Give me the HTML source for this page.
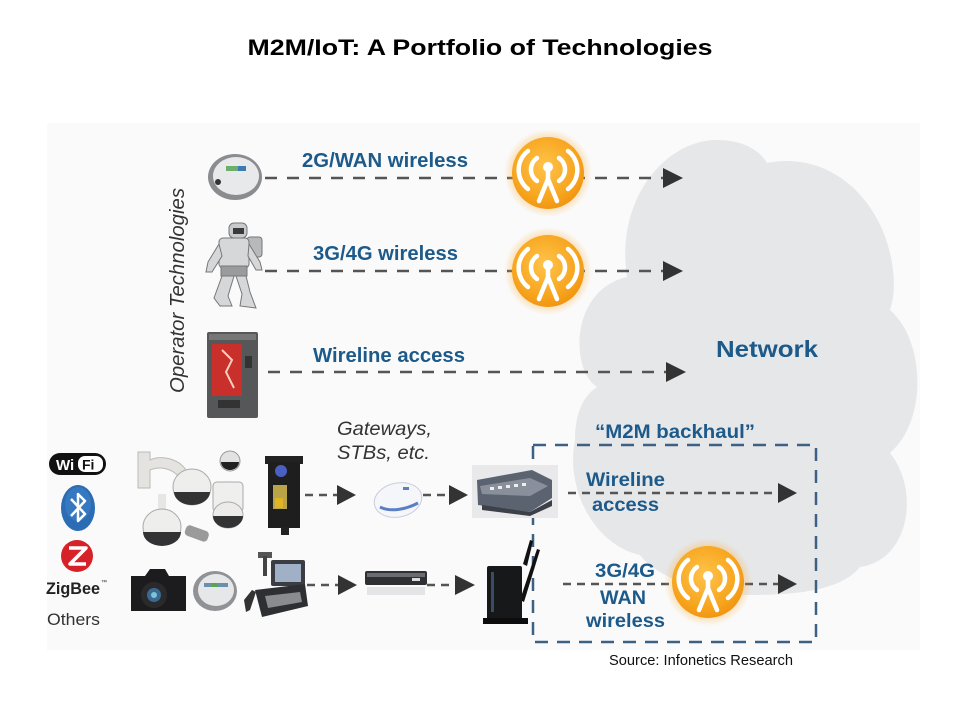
<!DOCTYPE html>
<html><head><meta charset="utf-8"><style>
html,body{margin:0;padding:0;background:#fff;}
svg{display:block;font-family:"Liberation Sans",Arial,sans-serif;}
</style></head><body>
<svg width="960" height="720" viewBox="0 0 960 720" xmlns="http://www.w3.org/2000/svg">
<defs>
<radialGradient id="og" cx="0.45" cy="0.4" r="0.6">
<stop offset="0" stop-color="#ffc34a"/><stop offset="0.75" stop-color="#f7a51e"/><stop offset="1" stop-color="#f29612"/>
</radialGradient>
<radialGradient id="glow" cx="0.5" cy="0.5" r="0.5">
<stop offset="0.7" stop-color="#f9b040" stop-opacity="0.5"/><stop offset="1" stop-color="#f9b040" stop-opacity="0"/>
</radialGradient>
<g id="wl">
<circle r="44" fill="url(#glow)"/>
<circle r="36" fill="url(#og)"/>
<g fill="none" stroke="#fff" stroke-width="4.5" stroke-linecap="round">
<path d="M-11,-15 A14,14 0 0,0 -11,8"/>
<path d="M11,-15 A14,14 0 0,1 11,8"/>
<path d="M-20,-22 A24,24 0 0,0 -20,16"/>
<path d="M20,-22 A24,24 0 0,1 20,16"/>
<path d="M0,-3 L0,6 M0,6 L-9,28 M0,6 L9,28"/>
</g>
<circle cx="0" cy="-6" r="5" fill="#fff"/>
</g>
</defs>

<!-- panel background -->
<rect x="47" y="123" width="873" height="527" fill="#fafafa"/>

<!-- cloud -->
<path d="M627,277 C615,200 665,140 717,140 C740,140 758,148 767,163 C830,150 885,200 893,270 C895,290 893,300 890,310 C925,340 928,420 890,453 C920,490 910,560 860,567 C840,592 790,595 750,595 C700,595 655,575 640,555 C595,545 565,490 575,440 C575,410 585,395 597,387 C570,370 570,290 627,277 Z" fill="#e6e7e9"/>

<!-- title -->
<text x="480" y="55" text-anchor="middle" font-size="22" font-weight="bold" fill="#000" textLength="465" lengthAdjust="spacingAndGlyphs">M2M/IoT: A Portfolio of Technologies</text>

<!-- Operator Technologies -->
<text transform="translate(184,393) rotate(-90)" font-size="20" font-style="italic" fill="#333" textLength="205" lengthAdjust="spacingAndGlyphs">Operator Technologies</text>

<!-- upper dashed lines -->
<g stroke="#555" stroke-width="2.5" stroke-dasharray="12 10" fill="none">
<line x1="265" y1="178" x2="665" y2="178"/>
<line x1="265" y1="271" x2="665" y2="271"/>
<line x1="268" y1="372" x2="668" y2="372"/>
</g>
<g fill="#333">
<polygon points="663,168 683,178 663,188"/>
<polygon points="663,261 683,271 663,281"/>
<polygon points="666,362 686,372 666,382"/>
</g>

<!-- upper labels -->
<g font-size="20" font-weight="bold" fill="#1d5a8a">
<text x="302" y="167" textLength="166" lengthAdjust="spacingAndGlyphs">2G/WAN wireless</text>
<text x="313" y="260" textLength="145" lengthAdjust="spacingAndGlyphs">3G/4G wireless</text>
<text x="313" y="362" textLength="152" lengthAdjust="spacingAndGlyphs">Wireline access</text>
<text x="716" y="357" font-size="23" textLength="102" lengthAdjust="spacingAndGlyphs">Network</text>
<text x="595" y="438" font-size="19" textLength="160" lengthAdjust="spacingAndGlyphs">“M2M backhaul”</text>
<text x="586" y="486" font-size="19" textLength="79" lengthAdjust="spacingAndGlyphs">Wireline</text>
<text x="592" y="511" font-size="19" textLength="67" lengthAdjust="spacingAndGlyphs">access</text>
<text x="595" y="577" font-size="19" textLength="60" lengthAdjust="spacingAndGlyphs">3G/4G</text>
<text x="600" y="604" font-size="19" textLength="46" lengthAdjust="spacingAndGlyphs">WAN</text>
<text x="586" y="627" font-size="19" textLength="79" lengthAdjust="spacingAndGlyphs">wireless</text>
</g>

<!-- backhaul dashed box -->
<path d="M533,445 L816,445 L816,642 L533,642 Z" fill="none" stroke="#3d6185" stroke-width="2.5" stroke-dasharray="13 9"/>

<!-- lower dashed lines -->
<g stroke="#555" stroke-width="2.5" stroke-dasharray="8 6" fill="none">
<line x1="305" y1="495" x2="338" y2="495"/>
<line x1="423" y1="495" x2="450" y2="495"/>
<line x1="568" y1="493" x2="778" y2="493"/>
<line x1="307" y1="585" x2="338" y2="585"/>
<line x1="427" y1="585" x2="455" y2="585"/>
<line x1="563" y1="584" x2="778" y2="584"/>
</g>
<g fill="#333">
<polygon points="337,485 356,495 337,505"/>
<polygon points="449,485 468,495 449,505"/>
<polygon points="778,483 797,493 778,503"/>
<polygon points="338,575 357,585 338,595"/>
<polygon points="455,575 475,585 455,595"/>
<polygon points="778,574 797,584 778,594"/>
</g>

<!-- wireless icons -->
<use href="#wl" x="548" y="173"/>
<use href="#wl" x="548" y="271"/>
<use href="#wl" x="708" y="582"/>

<!-- Gateways text -->
<g font-size="19" font-style="italic" fill="#333">
<text x="337" y="435" textLength="95" lengthAdjust="spacingAndGlyphs">Gateways,</text>
<text x="337" y="459" textLength="93" lengthAdjust="spacingAndGlyphs">STBs, etc.</text>
</g>

<!-- Source -->
<text x="609" y="665" font-size="14.5" fill="#111" textLength="184" lengthAdjust="spacingAndGlyphs">Source: Infonetics Research</text>

<!-- left logos -->
<rect x="49" y="453" width="57" height="22" rx="11" fill="#111"/>
<text x="56" y="470" font-size="15" font-weight="bold" fill="#fff">Wi</text>
<rect x="78" y="456" width="25" height="16" rx="7" fill="#fff"/>
<text x="82" y="469.5" font-size="14" font-weight="bold" fill="#111">Fi</text>
<ellipse cx="78" cy="508" rx="17" ry="23" fill="#2b6cb5"/>
<ellipse cx="78" cy="504" rx="13" ry="17" fill="#3f82c8" opacity="0.6"/>
<path d="M71,499 L85,514 L78,521 L78,494 L85,501 L71,516" fill="none" stroke="#fff" stroke-width="2.5" stroke-linejoin="round"/>
<circle cx="77" cy="556" r="16" fill="#d62128"/>
<path d="M69,548 L86,548 L70,564 L86,564" fill="none" stroke="#fff" stroke-width="3.5" stroke-linejoin="round"/>
<text x="46" y="594" font-size="17" font-weight="bold" fill="#222" textLength="54" lengthAdjust="spacingAndGlyphs">ZigBee</text>
<text x="101" y="584" font-size="6" fill="#222">™</text>
<text x="47" y="625" font-size="17" fill="#333" textLength="53" lengthAdjust="spacingAndGlyphs">Others</text>

<!-- meter 1 -->
<ellipse cx="235" cy="177" rx="27" ry="23" fill="#8a8c90"/>
<ellipse cx="236" cy="176" rx="23" ry="19" fill="#e8e9ea"/>
<rect x="226" y="166" width="20" height="5" fill="#6cae6a"/>
<rect x="238" y="166" width="8" height="5" fill="#3d7bb5"/>
<circle cx="218" cy="182" r="3" fill="#333"/>

<!-- robot -->
<g fill="#d6d7d9" stroke="#777" stroke-width="1">
<rect x="229" y="223" width="18" height="15" rx="5" fill="#c9cacc"/>
<rect x="233" y="228" width="11" height="6" fill="#3a3a3a" stroke="none"/>
<rect x="247" y="237" width="15" height="20" rx="3" fill="#b8b9bb"/>
<rect x="219" y="238" width="30" height="30" rx="4"/>
<path d="M219,244 L208,262 L206,272 L212,272 L222,256 Z"/>
<path d="M249,244 L260,262 L262,270 L256,270 L248,256 Z"/>
<rect x="221" y="266" width="26" height="10" fill="#9a9b9d"/>
<path d="M222,276 L214,298 L220,306 L232,306 L228,296 L234,276 Z"/>
<path d="M236,276 L242,294 L240,306 L256,308 L250,292 L246,276 Z"/>
</g>

<!-- vending machine -->
<rect x="207" y="332" width="51" height="86" rx="2" fill="#555759"/>
<rect x="209" y="334" width="47" height="6" fill="#777"/>
<rect x="212" y="344" width="30" height="52" fill="#c9302c"/>
<path d="M222,350 L232,360 L226,372 L234,388" fill="none" stroke="#f3d0c0" stroke-width="2"/>
<rect x="245" y="356" width="7" height="12" fill="#333"/>
<rect x="218" y="400" width="22" height="8" fill="#333"/>

<!-- camera cluster -->
<path d="M138,452 L150,452 L150,460 C160,455 178,458 186,470 L180,478 C172,468 160,466 150,470 L150,488 L138,488 Z" fill="#e4e3df" stroke="#bbb" stroke-width="1"/>
<ellipse cx="192" cy="487" rx="19" ry="18" fill="#eeeeec" stroke="#aaa" stroke-width="1"/>
<path d="M174,492 A18,13 0 0,0 210,492 Z" fill="#333"/>
<circle cx="230" cy="461" r="10" fill="#e2e2e2" stroke="#999"/>
<path d="M221,462 A9,8 0 0,0 239,462 Z" fill="#222"/>
<rect x="213" y="482" width="30" height="30" rx="4" fill="#efefed" stroke="#aaa"/>
<ellipse cx="228" cy="515" rx="15" ry="13" fill="#ecebe9" stroke="#aaa"/>
<path d="M213,516 A15,12 0 0,0 243,516 Z" fill="#333"/>
<rect x="158" y="494" width="8" height="16" fill="#e6e6e4"/>
<ellipse cx="162" cy="527" rx="19" ry="18" fill="#eeeeec" stroke="#aaa"/>
<path d="M143,532 A19,14 0 0,0 181,532 Z" fill="#333"/>
<rect x="185" y="528" width="24" height="11" rx="4" fill="#9a9a9a" transform="rotate(20 197 533)"/>

<!-- parking meter -->
<rect x="265" y="456" width="38" height="8" fill="#222"/>
<rect x="268" y="462" width="32" height="66" fill="#1e1e1e"/>
<circle cx="281" cy="471" r="6" fill="#4a5fc1"/>
<rect x="273" y="485" width="14" height="24" fill="#b9a447"/>
<rect x="275" y="498" width="8" height="10" fill="#e0b423"/>
<rect x="281" y="527" width="8" height="8" fill="#222"/>

<!-- gateway puck -->
<ellipse cx="398" cy="500" rx="24" ry="17" fill="#f4f6fa" stroke="#ccd" transform="rotate(-12 398 500)"/>
<path d="M380,507 C390,512 405,510 418,503" stroke="#5b7fc4" stroke-width="3" fill="none"/>
<rect x="403" y="487" width="6" height="3" fill="#5b7fc4"/>

<!-- switch -->
<rect x="472" y="465" width="86" height="53" fill="#e9e9eb"/>
<path d="M477,480 L532,470 L552,480 L552,498 L530,512 L478,505 Z" fill="#5c6370"/>
<path d="M480,486 L530,478 L548,486 L530,496 L482,494 Z" fill="#8a909b"/>
<g fill="#eee"><rect x="490" y="487" width="4" height="3"/><rect x="498" y="486" width="4" height="3"/><rect x="506" y="485" width="4" height="3"/><rect x="514" y="484" width="4" height="3"/><rect x="522" y="483" width="4" height="3"/></g>
<path d="M482,505 L530,512 L552,500 L552,506 L530,516 L482,510 Z" fill="#3c4048"/>

<!-- camera (DSLR) -->
<path d="M131,576 L145,576 L150,569 L165,569 L169,576 L186,576 L186,611 L131,611 Z" fill="#1c1c1e"/>
<circle cx="154" cy="595" r="13" fill="#2a2a2c"/>
<circle cx="154" cy="595" r="7" fill="#3a6a8e"/>
<circle cx="154" cy="595" r="3" fill="#7fc2e0"/>

<!-- meter 2 -->
<ellipse cx="215" cy="591" rx="22" ry="20" fill="#909296"/>
<ellipse cx="216" cy="590" rx="18" ry="16" fill="#e6e7e8"/>
<rect x="204" y="583" width="24" height="4" fill="#6c8fae"/>
<rect x="212" y="583" width="6" height="4" fill="#5aa34f"/>

<!-- POS -->
<rect x="258" y="552" width="14" height="6" fill="#555"/>
<rect x="263" y="556" width="4" height="20" fill="#444"/>
<rect x="271" y="560" width="34" height="26" rx="2" fill="#3b3d42"/>
<rect x="275" y="564" width="26" height="18" fill="#9fb0c7"/>
<path d="M255,590 L305,584 L308,606 L262,617 Z" fill="#2e2f33"/>
<path d="M265,596 L300,592 L302,602 L268,608 Z" fill="#8a8b8e"/>
<path d="M244,600 L252,590 L256,592 L250,610 L246,612 Z" fill="#333"/>

<!-- set top box -->
<rect x="365" y="571" width="62" height="14" rx="2" fill="#2f3033"/>
<rect x="367" y="573" width="58" height="4" fill="#6a6c70"/>
<rect x="412" y="578" width="8" height="3" fill="#ddd"/>
<rect x="367" y="587" width="58" height="8" fill="#d5d6d8" opacity="0.6"/>

<!-- router -->
<path d="M523,564 L530,540 L533,541 L527,566 Z" fill="#111"/>
<path d="M520,600 L537,549 L540,550 L524,602 Z" fill="#111"/>
<rect x="487" y="566" width="35" height="56" rx="2" fill="#17181a"/>
<rect x="491" y="572" width="3" height="40" fill="#3a4b66"/>
<rect x="483" y="618" width="45" height="6" fill="#0d0d0d"/>
</svg>
</body></html>
